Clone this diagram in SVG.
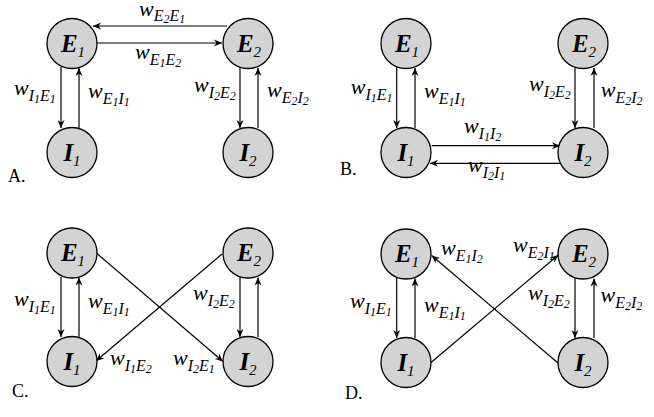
<svg xmlns="http://www.w3.org/2000/svg" width="654" height="417" viewBox="0 0 654 417">
<style>
.bg{fill:#ffffff}
.node{fill:#d3d3d3;stroke:#000;stroke-width:1.3}
.edge{stroke:#000;stroke-width:1.2;fill:none;marker-end:url(#ah)}
.nl{font-family:"Liberation Serif",serif;font-style:italic;font-weight:bold;font-size:25px;fill:#000}
.nls{font-weight:normal;font-size:15px}
.w{font-family:"Liberation Serif",serif;font-style:italic;font-size:22px;fill:#000}
.s{font-size:16px}
.ss{font-size:12px}
.pl{font-family:"Liberation Serif",serif;font-size:18px;fill:#000}
</style>
<defs>
<marker id="ah" markerWidth="10" markerHeight="8" viewBox="-9 -4 10 8" refX="0" refY="0" orient="auto" markerUnits="userSpaceOnUse">
<path d="M-8,-3.5 L0,0 L-8,3.5 L-5.5,0 z" fill="#000"/>
</marker>
</defs>
<rect class="bg" x="0" y="0" width="654" height="417"/>

<g id="connectors">
<!-- Panel A -->
<line class="edge" x1="227" y1="26" x2="93" y2="26"/>
<line class="edge" x1="97" y1="43" x2="222" y2="43"/>
<line class="edge" x1="61" y1="67" x2="61" y2="128"/>
<line class="edge" x1="79" y1="128" x2="79" y2="68"/>
<line class="edge" x1="240" y1="67" x2="240" y2="128"/>
<line class="edge" x1="258" y1="128" x2="258" y2="68"/>
<!-- Panel B -->
<line class="edge" x1="396.7" y1="67" x2="396.7" y2="128"/>
<line class="edge" x1="415" y1="128" x2="415" y2="68"/>
<line class="edge" x1="575" y1="67" x2="575" y2="128"/>
<line class="edge" x1="594" y1="128" x2="594" y2="68"/>
<line class="edge" x1="431.7" y1="145.7" x2="560" y2="145.7"/>
<line class="edge" x1="562" y1="163.3" x2="430" y2="163.3"/>
<!-- Panel C -->
<line class="edge" x1="61" y1="277" x2="61" y2="337"/>
<line class="edge" x1="79" y1="337" x2="79" y2="277.5"/>
<line class="edge" x1="240" y1="277" x2="240" y2="337"/>
<line class="edge" x1="258" y1="337" x2="258" y2="277.5"/>
<line class="edge" x1="96.7" y1="253.3" x2="223" y2="361.5"/>
<line class="edge" x1="222" y1="254" x2="96" y2="361"/>
<!-- Panel D -->
<line class="edge" x1="396.7" y1="278" x2="396.7" y2="338"/>
<line class="edge" x1="415" y1="338" x2="415" y2="278.5"/>
<line class="edge" x1="575" y1="278" x2="575" y2="338"/>
<line class="edge" x1="594" y1="338" x2="594" y2="278.5"/>
<line class="edge" x1="430.7" y1="362.7" x2="558.3" y2="255"/>
<line class="edge" x1="558.3" y1="363.3" x2="431.7" y2="255.5"/>
</g>

<!-- Panel A nodes -->
<g id="A-E1"><circle class="node" cx="72" cy="43.5" r="25"/><text class="nl" x="73" y="51.5" text-anchor="middle">E<tspan class="nls" dy="5">1</tspan></text></g>
<g id="A-E2"><circle class="node" cx="248" cy="43.5" r="25"/><text class="nl" x="249" y="51.5" text-anchor="middle">E<tspan class="nls" dy="5">2</tspan></text></g>
<g id="A-I1"><circle class="node" cx="72" cy="152.5" r="25"/><text class="nl" x="72" y="160.5" text-anchor="middle">I<tspan class="nls" dy="5">1</tspan></text></g>
<g id="A-I2"><circle class="node" cx="248" cy="152.5" r="25"/><text class="nl" x="248" y="160.5" text-anchor="middle">I<tspan class="nls" dy="5">2</tspan></text></g>
<!-- Panel B nodes -->
<g id="B-E1"><circle class="node" cx="406" cy="43.5" r="25"/><text class="nl" x="407" y="51.5" text-anchor="middle">E<tspan class="nls" dy="5">1</tspan></text></g>
<g id="B-E2"><circle class="node" cx="583" cy="43.5" r="25"/><text class="nl" x="584" y="51.5" text-anchor="middle">E<tspan class="nls" dy="5">2</tspan></text></g>
<g id="B-I1"><circle class="node" cx="406" cy="152.5" r="25"/><text class="nl" x="406" y="160.5" text-anchor="middle">I<tspan class="nls" dy="5">1</tspan></text></g>
<g id="B-I2"><circle class="node" cx="583" cy="152.5" r="25"/><text class="nl" x="583" y="160.5" text-anchor="middle">I<tspan class="nls" dy="5">2</tspan></text></g>
<!-- Panel C nodes -->
<g id="C-E1"><circle class="node" cx="72" cy="253" r="25"/><text class="nl" x="73" y="261" text-anchor="middle">E<tspan class="nls" dy="5">1</tspan></text></g>
<g id="C-E2"><circle class="node" cx="248" cy="253" r="25"/><text class="nl" x="249" y="261" text-anchor="middle">E<tspan class="nls" dy="5">2</tspan></text></g>
<g id="C-I1"><circle class="node" cx="72" cy="361.5" r="25"/><text class="nl" x="72" y="369.5" text-anchor="middle">I<tspan class="nls" dy="5">1</tspan></text></g>
<g id="C-I2"><circle class="node" cx="248" cy="361.5" r="25"/><text class="nl" x="248" y="369.5" text-anchor="middle">I<tspan class="nls" dy="5">2</tspan></text></g>
<!-- Panel D nodes -->
<g id="D-E1"><circle class="node" cx="406" cy="254" r="25"/><text class="nl" x="407" y="262" text-anchor="middle">E<tspan class="nls" dy="5">1</tspan></text></g>
<g id="D-E2"><circle class="node" cx="583" cy="254" r="25"/><text class="nl" x="584" y="262" text-anchor="middle">E<tspan class="nls" dy="5">2</tspan></text></g>
<g id="D-I1"><circle class="node" cx="406" cy="362.5" r="25"/><text class="nl" x="406" y="370.5" text-anchor="middle">I<tspan class="nls" dy="5">1</tspan></text></g>
<g id="D-I2"><circle class="node" cx="583" cy="362.5" r="25"/><text class="nl" x="583" y="370.5" text-anchor="middle">I<tspan class="nls" dy="5">2</tspan></text></g>

<g id="labels">
<!-- Panel A -->
<text class="w" x="139" y="16">w<tspan class="s" dy="5">E</tspan><tspan class="ss" dy="2">2</tspan><tspan class="s" dy="-2">E</tspan><tspan class="ss" dy="2">1</tspan></text>
<text class="w" x="135" y="59">w<tspan class="s" dy="6">E</tspan><tspan class="ss" dy="2">1</tspan><tspan class="s" dy="-2">E</tspan><tspan class="ss" dy="2">2</tspan></text>
<text class="w" x="14" y="95">w<tspan class="s" dy="6">I</tspan><tspan class="ss" dy="2">1</tspan><tspan class="s" dy="-2">E</tspan><tspan class="ss" dy="2">1</tspan></text>
<text class="w" x="88" y="98">w<tspan class="s" dy="6">E</tspan><tspan class="ss" dy="2">1</tspan><tspan class="s" dy="-2">I</tspan><tspan class="ss" dy="2">1</tspan></text>
<text class="w" x="194" y="92">w<tspan class="s" dy="6">I</tspan><tspan class="ss" dy="2">2</tspan><tspan class="s" dy="-2">E</tspan><tspan class="ss" dy="2">2</tspan></text>
<text class="w" x="267" y="97">w<tspan class="s" dy="6">E</tspan><tspan class="ss" dy="2">2</tspan><tspan class="s" dy="-2">I</tspan><tspan class="ss" dy="2">2</tspan></text>
<text class="pl" x="8" y="182">A.</text>
<!-- Panel B -->
<text class="w" x="350.7" y="94">w<tspan class="s" dy="6">I</tspan><tspan class="ss" dy="2">1</tspan><tspan class="s" dy="-2">E</tspan><tspan class="ss" dy="2">1</tspan></text>
<text class="w" x="424" y="98">w<tspan class="s" dy="6">E</tspan><tspan class="ss" dy="2">1</tspan><tspan class="s" dy="-2">I</tspan><tspan class="ss" dy="2">1</tspan></text>
<text class="w" x="529" y="91">w<tspan class="s" dy="6">I</tspan><tspan class="ss" dy="2">2</tspan><tspan class="s" dy="-2">E</tspan><tspan class="ss" dy="2">2</tspan></text>
<text class="w" x="600.7" y="97">w<tspan class="s" dy="6">E</tspan><tspan class="ss" dy="2">2</tspan><tspan class="s" dy="-2">I</tspan><tspan class="ss" dy="2">2</tspan></text>
<text class="w" x="464" y="133">w<tspan class="s" dy="6">I</tspan><tspan class="ss" dy="2">1</tspan><tspan class="s" dy="-2">I</tspan><tspan class="ss" dy="2">2</tspan></text>
<text class="w" x="468" y="171.7">w<tspan class="s" dy="6">I</tspan><tspan class="ss" dy="2">2</tspan><tspan class="s" dy="-2">I</tspan><tspan class="ss" dy="2">1</tspan></text>
<text class="pl" x="340" y="175">B.</text>
<!-- Panel C -->
<text class="w" x="14" y="306">w<tspan class="s" dy="6">I</tspan><tspan class="ss" dy="2">1</tspan><tspan class="s" dy="-2">E</tspan><tspan class="ss" dy="2">1</tspan></text>
<text class="w" x="88" y="308">w<tspan class="s" dy="6">E</tspan><tspan class="ss" dy="2">1</tspan><tspan class="s" dy="-2">I</tspan><tspan class="ss" dy="2">1</tspan></text>
<text class="w" x="193" y="300">w<tspan class="s" dy="6">I</tspan><tspan class="ss" dy="2">2</tspan><tspan class="s" dy="-2">E</tspan><tspan class="ss" dy="2">2</tspan></text>
<text class="w" x="110" y="365">w<tspan class="s" dy="6">I</tspan><tspan class="ss" dy="2">1</tspan><tspan class="s" dy="-2">E</tspan><tspan class="ss" dy="2">2</tspan></text>
<text class="w" x="173" y="365">w<tspan class="s" dy="6">I</tspan><tspan class="ss" dy="2">2</tspan><tspan class="s" dy="-2">E</tspan><tspan class="ss" dy="2">1</tspan></text>
<text class="pl" x="12" y="397">C.</text>
<!-- Panel D -->
<text class="w" x="441" y="255">w<tspan class="s" dy="6">E</tspan><tspan class="ss" dy="2">1</tspan><tspan class="s" dy="-2">I</tspan><tspan class="ss" dy="2">2</tspan></text>
<text class="w" x="513" y="252">w<tspan class="s" dy="6">E</tspan><tspan class="ss" dy="2">2</tspan><tspan class="s" dy="-2">I</tspan><tspan class="ss" dy="2">1</tspan></text>
<text class="w" x="350" y="308">w<tspan class="s" dy="6">I</tspan><tspan class="ss" dy="2">1</tspan><tspan class="s" dy="-2">E</tspan><tspan class="ss" dy="2">1</tspan></text>
<text class="w" x="424" y="311.7">w<tspan class="s" dy="6">E</tspan><tspan class="ss" dy="2">1</tspan><tspan class="s" dy="-2">I</tspan><tspan class="ss" dy="2">1</tspan></text>
<text class="w" x="528" y="300">w<tspan class="s" dy="6">I</tspan><tspan class="ss" dy="2">2</tspan><tspan class="s" dy="-2">E</tspan><tspan class="ss" dy="2">2</tspan></text>
<text class="w" x="600.5" y="301.7">w<tspan class="s" dy="6">E</tspan><tspan class="ss" dy="2">2</tspan><tspan class="s" dy="-2">I</tspan><tspan class="ss" dy="2">2</tspan></text>
<text class="pl" x="345" y="399">D.</text>
</g>
</svg>
